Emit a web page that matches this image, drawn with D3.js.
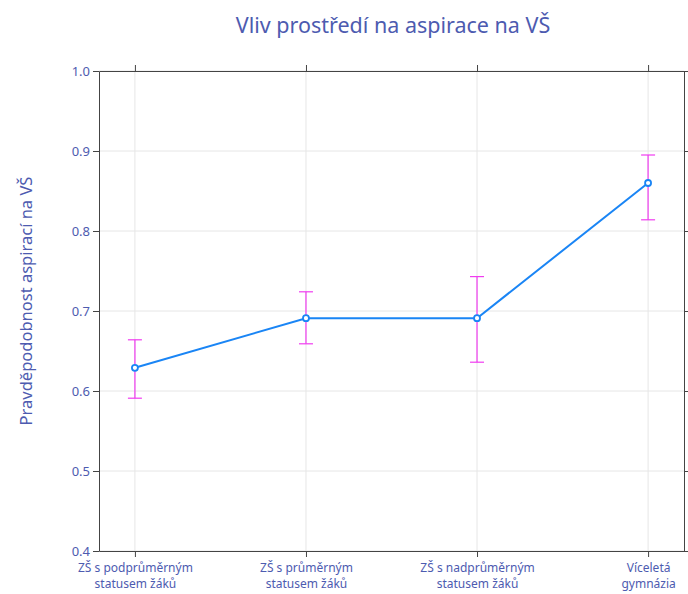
<!DOCTYPE html>
<html>
<head>
<meta charset="utf-8">
<script src="https://cdn.jsdelivr.net/npm/d3@7"></script>
<style>
  body { margin: 0; background: #fff; }
  text { font-family: "Noto Sans", "DejaVu Sans", sans-serif; fill: #4d5bb0; }
</style>
</head>
<body>
<div id="chart"></div>
<script>
// Data
var categories = ["ZŠ s podprůměrným|statusem žáků", "ZŠ s průměrným|statusem žáků",
  "ZŠ s nadprůměrným|statusem žáků", "Víceletá|gymnázia"];
var probValues = [0.629, 0.691, 0.691, 0.860];
var lowerValues = [0.591, 0.659, 0.636, 0.814];
var upperValues = [0.664, 0.724, 0.743, 0.895];
var yTicks = [0.4, 0.5, 0.6, 0.7, 0.8, 0.9, 1.0];

var svgWidth = 688, svgHeight = 594;
var margin = { top: 71, right: 4, bottom: 43, left: 99 };
var width = svgWidth - margin.left - margin.right;
var height = svgHeight - margin.top - margin.bottom;

var svg = d3.select("#chart").append("svg")
  .attr("width", svgWidth)
  .attr("height", svgHeight);

var chartGroup = svg.append("g")
  .attr("transform", `translate(${margin.left}, ${margin.top})`);

var xScale = d3.scalePoint().domain(categories).range([0, width]).padding(0.21);
var yScale = d3.scaleLinear().domain([0.4, 1.0]).range([height, 0]);

// grid
chartGroup.append("g").selectAll("line.gy")
  .data(yTicks).enter().append("line")
  .attr("x1", 0).attr("x2", width)
  .attr("y1", d => yScale(d)).attr("y2", d => yScale(d))
  .attr("stroke", "#e6e6e6");
chartGroup.append("g").selectAll("line.gx")
  .data(categories).enter().append("line")
  .attr("x1", d => xScale(d)).attr("x2", d => xScale(d))
  .attr("y1", 0).attr("y2", height)
  .attr("stroke", "#e6e6e6");

// axes (mirrored)
function styleAxis(g) {
  g.select(".domain").attr("stroke", "#444");
  g.selectAll(".tick line").attr("stroke", "#444");
  g.selectAll(".tick text").style("font-size", "13px");
}
chartGroup.append("g")
  .call(d3.axisLeft(yScale).tickValues(yTicks).tickFormat(d3.format(".1f")).tickSize(6).tickSizeOuter(0).tickPadding(3))
  .call(styleAxis);
chartGroup.append("g").attr("transform", `translate(${width},0)`)
  .call(d3.axisRight(yScale).tickValues(yTicks).tickFormat("").tickSize(5).tickSizeOuter(0))
  .call(styleAxis);
chartGroup.append("g")
  .call(d3.axisTop(xScale).tickFormat("").tickSize(6).tickSizeOuter(0))
  .call(styleAxis);
var bottomAxis = chartGroup.append("g").attr("transform", `translate(0,${height})`)
  .call(d3.axisBottom(xScale).tickSize(6).tickSizeOuter(0).tickFormat(""))
  .call(styleAxis);

// two-line category labels
bottomAxis.selectAll(".tick").each(function(d) {
  var t = d3.select(this);
  d.split("|").forEach(function(p, i) {
    t.append("text")
      .attr("x", 0).attr("y", 21 + i * 16)
      .attr("text-anchor", "middle")
      .style("font-size", "12px")
      .text(p);
  });
});

// error bars
var capW = 7;
var err = chartGroup.append("g").selectAll("g")
  .data(categories).enter().append("g");
err.append("line")
  .attr("x1", d => xScale(d)).attr("x2", d => xScale(d))
  .attr("y1", (d, i) => yScale(lowerValues[i])).attr("y2", (d, i) => yScale(upperValues[i]))
  .attr("stroke", "#f03cf0").attr("stroke-width", 1.2);
err.append("line")
  .attr("x1", d => xScale(d) - capW).attr("x2", d => xScale(d) + capW)
  .attr("y1", (d, i) => yScale(lowerValues[i])).attr("y2", (d, i) => yScale(lowerValues[i]))
  .attr("stroke", "#f03cf0").attr("stroke-width", 1.2);
err.append("line")
  .attr("x1", d => xScale(d) - capW).attr("x2", d => xScale(d) + capW)
  .attr("y1", (d, i) => yScale(upperValues[i])).attr("y2", (d, i) => yScale(upperValues[i]))
  .attr("stroke", "#f03cf0").attr("stroke-width", 1.2);

// line
var line = d3.line()
  .x((d, i) => xScale(categories[i]))
  .y(d => yScale(d));
chartGroup.append("path")
  .datum(probValues)
  .attr("d", line)
  .attr("fill", "none")
  .attr("stroke", "#1a85f5")
  .attr("stroke-width", 2);

chartGroup.selectAll("circle")
  .data(probValues).enter().append("circle")
  .attr("cx", (d, i) => xScale(categories[i]))
  .attr("cy", d => yScale(d))
  .attr("r", 3)
  .attr("fill", "#fff")
  .attr("stroke", "#1a85f5")
  .attr("stroke-width", 1.8);

// title
svg.append("text")
  .attr("x", 393).attr("y", 33)
  .attr("text-anchor", "middle")
  .style("font-size", "21.5px")
  .text("Vliv prostředí na aspirace na VŠ");

// y label
svg.append("text")
  .attr("transform", `translate(32, ${margin.top + height / 2 - 10}) rotate(-90)`)
  .attr("text-anchor", "middle")
  .style("font-size", "16.5px")
  .text("Pravděpodobnost aspirací na VŠ");
</script>
</body>
</html>
